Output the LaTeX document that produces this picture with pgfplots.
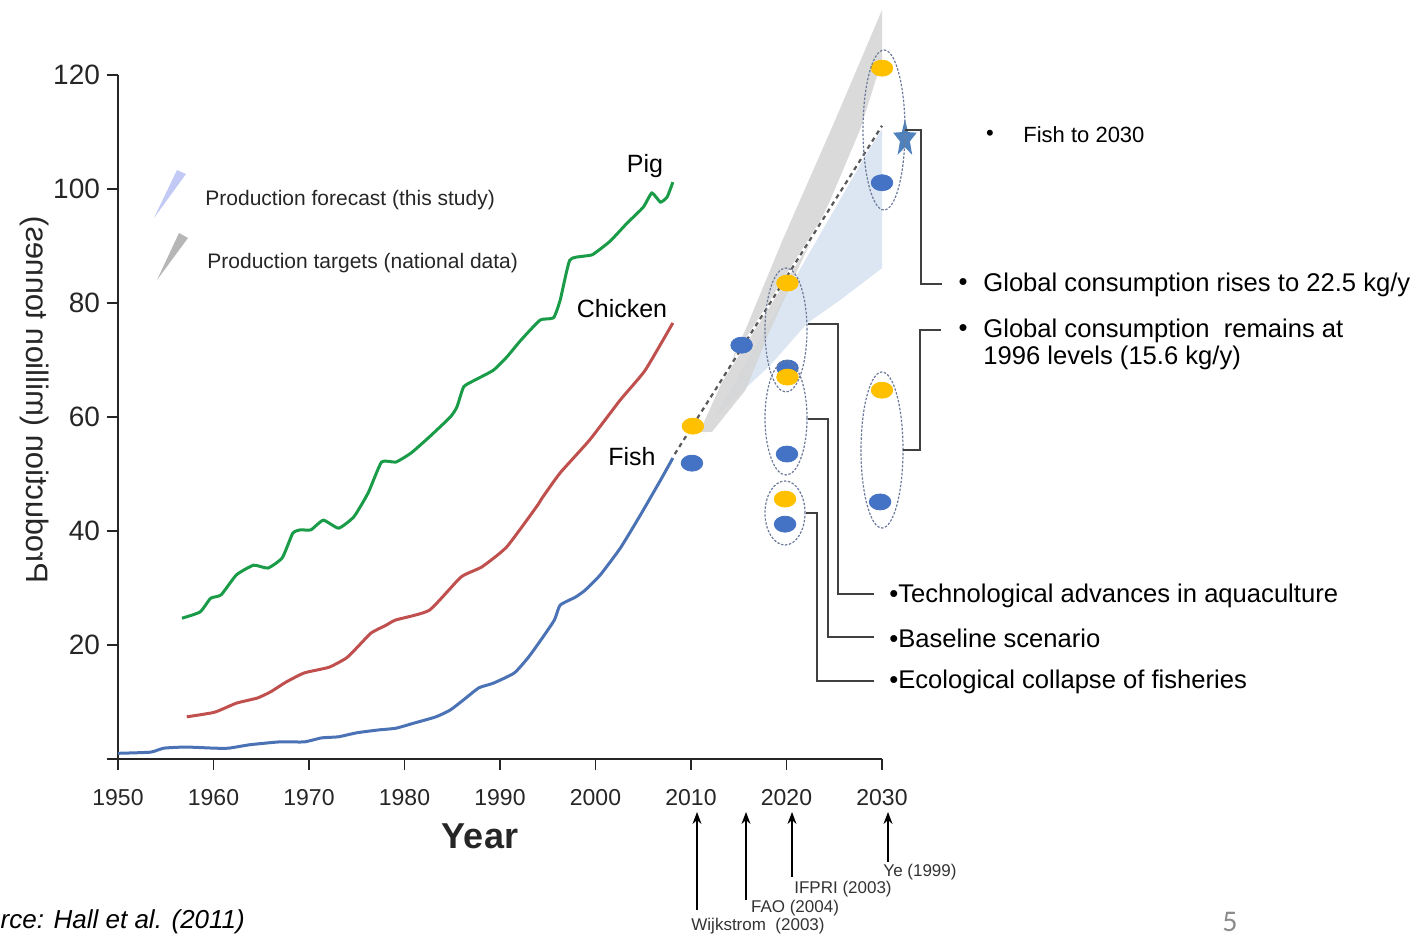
\documentclass[border=0pt]{standalone}
\usepackage{fontspec}
\setmainfont{Liberation Sans}
\newfontfamily\calibri{Carlito}
\usepackage{pgfplots}
\pgfplotsset{compat=1.18}
\usetikzlibrary{arrows.meta}

\definecolor{pigc}{HTML}{1A9B48}
\definecolor{chickc}{HTML}{C0504D}
\definecolor{fishc}{HTML}{4A72B5}
\definecolor{orangedot}{HTML}{FFC000}
\definecolor{bluedot}{HTML}{4472C4}
\definecolor{forecast}{HTML}{DCE6F2}
\definecolor{targets}{HTML}{D6D6D6}
\definecolor{starc}{HTML}{4F81BD}
\definecolor{ellc}{HTML}{6B7A9A}
\definecolor{brk}{HTML}{404040}

% filled five point star
\pgfdeclareplotmark{fstar}{%
  \pgfpathmoveto{\pgfqpointpolar{90}{\pgfplotmarksize}}%
  \pgfpathlineto{\pgfqpointpolar{126}{0.42\pgfplotmarksize}}%
  \pgfpathlineto{\pgfqpointpolar{162}{\pgfplotmarksize}}%
  \pgfpathlineto{\pgfqpointpolar{198}{0.42\pgfplotmarksize}}%
  \pgfpathlineto{\pgfqpointpolar{234}{\pgfplotmarksize}}%
  \pgfpathlineto{\pgfqpointpolar{270}{0.42\pgfplotmarksize}}%
  \pgfpathlineto{\pgfqpointpolar{306}{\pgfplotmarksize}}%
  \pgfpathlineto{\pgfqpointpolar{342}{0.42\pgfplotmarksize}}%
  \pgfpathlineto{\pgfqpointpolar{18}{\pgfplotmarksize}}%
  \pgfpathlineto{\pgfqpointpolar{54}{0.42\pgfplotmarksize}}%
  \pgfpathclose
  \pgfusepathqfill
}

\begin{document}
\begin{tikzpicture}
\begin{axis}[
  scale only axis, width=382pt, height=342pt,
  xmin=1950, xmax=2030, ymin=0, ymax=120,
  axis lines*=left,
  axis line style={line width=1.1pt, black!85},
  clip=false,
  xtick={1950,1960,...,2030},
  xticklabels={1950,1960,1970,1980,1990,2000,2010,2020,2030},
  ytick={0,20,40,60,80,100,120},
  yticklabels={,20,40,60,80,100,120},
  tick align=outside, major tick length=5.5pt,
  tick style={line width=0.9pt, black!85},
  xticklabel style={font=\fontsize{11.5}{13}\selectfont, text=black!85, yshift=-6pt},
  yticklabel style={font=\fontsize{14}{16}\selectfont, text=black!85},
]

% forecast range (light blue) and targets (grey)
\addplot[draw=none, fill=forecast] coordinates {
  (2011.3,56.5) (2030,110.9) (2030,86.1) (2025.6,80.5) (2022.2,76.5)
  (2018.3,69.1) (2015.5,64.7) (2012.3,59.5)
} -- cycle;
\addplot[draw=none, fill=targets, fill opacity=0.9] coordinates {
  (2010.9,57.4) (2015.7,75.3) (2019.6,91.1) (2025.1,112.1) (2030,131.4)
  (2030,122.6) (2027.7,110.4) (2024.6,98.1) (2021.4,86.7) (2018.3,75.3)
  (2015.7,64.7) (2012.2,57.4)
} -- cycle;

% Pig
\addplot[pigc, line width=1.5pt, smooth, tension=0.3] coordinates {
  (1956.7,24.7) (1958.6,25.8) (1959.7,28.2) (1960.8,28.8) (1962.4,32.3)
  (1964.2,34.0) (1965.7,33.5) (1967.2,35.3) (1968.3,39.6) (1969.1,40.2)
  (1970.2,40.2) (1971.5,41.9) (1973.1,40.5) (1974.7,42.5) (1976.2,46.7)
  (1977.6,52.1) (1979.1,52.1) (1980.7,53.7) (1982.6,56.5) (1984.8,60.0)
  (1985.5,61.8) (1986.2,65.3) (1987.4,66.5) (1989.3,68.2) (1990.7,70.5)
  (1992.2,73.5) (1994.2,77.0) (1995.6,77.4) (1996.3,80.5) (1997.3,87.5)
  (1998.7,88.2) (1999.7,88.5) (2001.5,90.8) (2003.3,94.0) (2005.0,96.8)
  (2005.9,99.3) (2006.8,97.7) (2007.5,98.6) (2008.1,101.2)
};
% Chicken
\addplot[chickc, line width=1.5pt, smooth, tension=0.3] coordinates {
  (1957.2,7.4) (1960.1,8.2) (1962.4,9.8) (1964.6,10.7) (1966.0,11.8)
  (1967.6,13.5) (1969.5,15.1) (1972.1,16.1) (1973.9,17.7) (1975.0,19.5)
  (1976.5,22.1) (1978.1,23.5) (1979.1,24.4) (1982.6,26.1) (1985.9,31.9)
  (1988.1,33.7) (1990.7,37.2) (1993.8,44.2) (1994.5,46.0) (1996.3,50.2)
  (1999.4,56.0) (2002.6,63.0) (2005.2,68.2) (2008.1,76.5)
};
% Fish
\addplot[fishc, line width=1.5pt, smooth, tension=0.3] coordinates {
  (1950,1.0) (1953.4,1.2) (1954.8,1.9) (1957.1,2.1) (1960.1,1.9)
  (1961.6,1.9) (1963.8,2.5) (1966.9,3.0) (1969.5,3.0) (1971.3,3.7)
  (1973.1,3.9) (1975.0,4.6) (1977.3,5.1) (1979.1,5.4) (1981.0,6.3)
  (1983.3,7.4) (1984.8,8.6) (1986.2,10.4) (1987.8,12.5) (1989.3,13.3)
  (1991.5,15.1) (1993.0,17.9) (1994.5,21.4) (1995.7,24.4) (1996.3,27.0)
  (1997.9,28.4) (1998.9,29.6) (2000.5,32.3) (2002.6,37.0) (2004.7,42.8)
  (2006.8,48.9) (2008.1,52.8)
};
% projection to 2030
\addplot[white, line width=1.6pt] coordinates {(2008.3,53.5) (2030,111.1)};
\addplot[black!65, line width=1.1pt, dash pattern=on 2.2pt off 2pt] coordinates {(2008.3,53.5) (2030,111.1)};

% scenario dots
\addplot[bluedot, only marks, mark=*, mark size=4pt, mark options={xscale=1.35, draw=bluedot, fill=bluedot}] coordinates {
  (2010.1,51.9) (2015.3,72.6) (2020.1,68.6) (2020.05,53.5) (2019.85,41.2)
  (2030,101.1) (2029.8,45.1)
};
\addplot[orangedot, only marks, mark=*, mark size=4pt, mark options={xscale=1.35, draw=orangedot, fill=orangedot}] coordinates {
  (2010.2,58.4) (2020.1,83.5) (2020.1,67.0) (2019.85,45.6) (2030,121.2) (2030,64.7)
};
% Fish to 2030
\addplot[starc, only marks, mark=fstar, mark size=6.2pt, mark options={yscale=1.6, fill=starc}] coordinates {(2032.4,108.8)};
\end{axis}

\begin{scope}[x=0.5pt, y=-0.5pt, shift={(-59pt,379.5pt)}]
  % scenario ellipses
  \begin{scope}[ellc, line width=0.6pt, dash pattern=on 1.2pt off 0.8pt]
    \draw (884,130) ellipse [x radius=10.5pt, y radius=40pt];
    \draw (882,450) ellipse [x radius=10.5pt, y radius=39pt];
    \draw (786,330) ellipse [x radius=10.5pt, y radius=31pt];
    \draw (786,418) ellipse [x radius=10.5pt, y radius=28.5pt];
    \draw (785,513) ellipse [x radius=10pt, y radius=16pt];
  \end{scope}

  % brackets
  \begin{scope}[brk, line width=0.8pt]
    \draw (905,130) -- (921,130) -- (921,284) -- (942,284);
    \draw (903,450) -- (920,450) -- (920,330) -- (941,330);
    \draw (808,324) -- (838,324) -- (838,594) -- (874,594);
    \draw (808,419) -- (828,419) -- (828,637) -- (874,637);
    \draw (806,513) -- (817,513) -- (817,681) -- (874,681);
  \end{scope}

  % key wedges
  \fill[forecast!85!blue!90] (154,218) -- (177,170) -- (186,174) -- cycle;
  \fill[targets!85!black] (157,280) -- (179,233) -- (188,238) -- cycle;
  \node[anchor=west, inner sep=0, font=\fontsize{10.5}{12}\selectfont, text=black!85] at (205,200) {Production forecast (this study)};
  \node[anchor=west, inner sep=0, font=\fontsize{10.5}{12}\selectfont, text=black!85] at (207,263) {Production targets (national data)};

  % series labels
  \node[font=\fontsize{12.5}{14}\selectfont] at (645,166) {Pig};
  \node[font=\fontsize{12.5}{14}\selectfont] at (622,309) {Chicken};
  \node[font=\fontsize{12.5}{14}\selectfont] at (632,457) {Fish};

  % axis titles
  \node[font=\bfseries\fontsize{18}{20}\selectfont, text=black!85] at (480,836) {Year};
  \node[rotate=-90, xscale=-1, font=\fontsize{15.5}{18}\selectfont, text=black!85] at (35,400) {Production (million tonnes)};

  % scenario texts
  \node[inner sep=0, font=\fontsize{11}{13}\selectfont] at (990,135) {•};
  \node[anchor=west, inner sep=0, font=\fontsize{11}{13}\selectfont] at (1023,135) {Fish to 2030};
  \node[inner sep=0, font=\fontsize{12.8}{14}\selectfont] at (963,285) {•};
  \node[anchor=west, inner sep=0, font=\fontsize{12.8}{14}\selectfont] at (983,285) {Global consumption rises to 22.5 kg/y};
  \node[inner sep=0, font=\fontsize{12.8}{14}\selectfont] at (963,331) {•};
  \node[anchor=west, inner sep=0, font=\fontsize{12.8}{14}\selectfont] at (983,331) {Global consumption\ \ remains at};
  \node[anchor=west, inner sep=0, font=\fontsize{12.8}{14}\selectfont] at (983,358) {1996 levels (15.6 kg/y)};
  \node[anchor=west, inner sep=0, font=\fontsize{12.8}{14}\selectfont] at (889,596) {•Technological advances in aquaculture};
  \node[anchor=west, inner sep=0, font=\fontsize{12.8}{14}\selectfont] at (889,638) {•Baseline scenario};
  \node[anchor=west, inner sep=0, font=\fontsize{12.8}{14}\selectfont] at (889,682) {•Ecological collapse of fisheries};

  % sources of projections
  \begin{scope}[black, line width=0.6pt, -{Stealth[length=6pt, width=4.5pt]}]
    \draw (697,910) -- (697,812);
    \draw (746,900) -- (746,812);
    \draw (792,877) -- (792,812);
    \draw (888,862) -- (888,812);
  \end{scope}
  \node[font=\fontsize{8.5}{10}\selectfont, text=black!80] at (758,926) {Wijkstrom\ \ (2003)};
  \node[font=\fontsize{8.5}{10}\selectfont, text=black!80] at (795,908) {FAO (2004)};
  \node[font=\fontsize{8.5}{10}\selectfont, text=black!80] at (843,889) {IFPRI (2003)};
  \node[font=\fontsize{8.5}{10}\selectfont, text=black!80] at (920,872) {Ye (1999)};

  \node[anchor=west, inner sep=0, font=\itshape\fontsize{13}{15}\selectfont] at (-46,922) {Source: Hall et al. (2011)};
  \node[font=\calibri\fontsize{15}{17}\selectfont, text=black!45] at (1230,922) {5};

  \pgfresetboundingbox
  \path[use as bounding box] (0,0) rectangle (1424,938);
\end{scope}
\end{tikzpicture}
\end{document}
